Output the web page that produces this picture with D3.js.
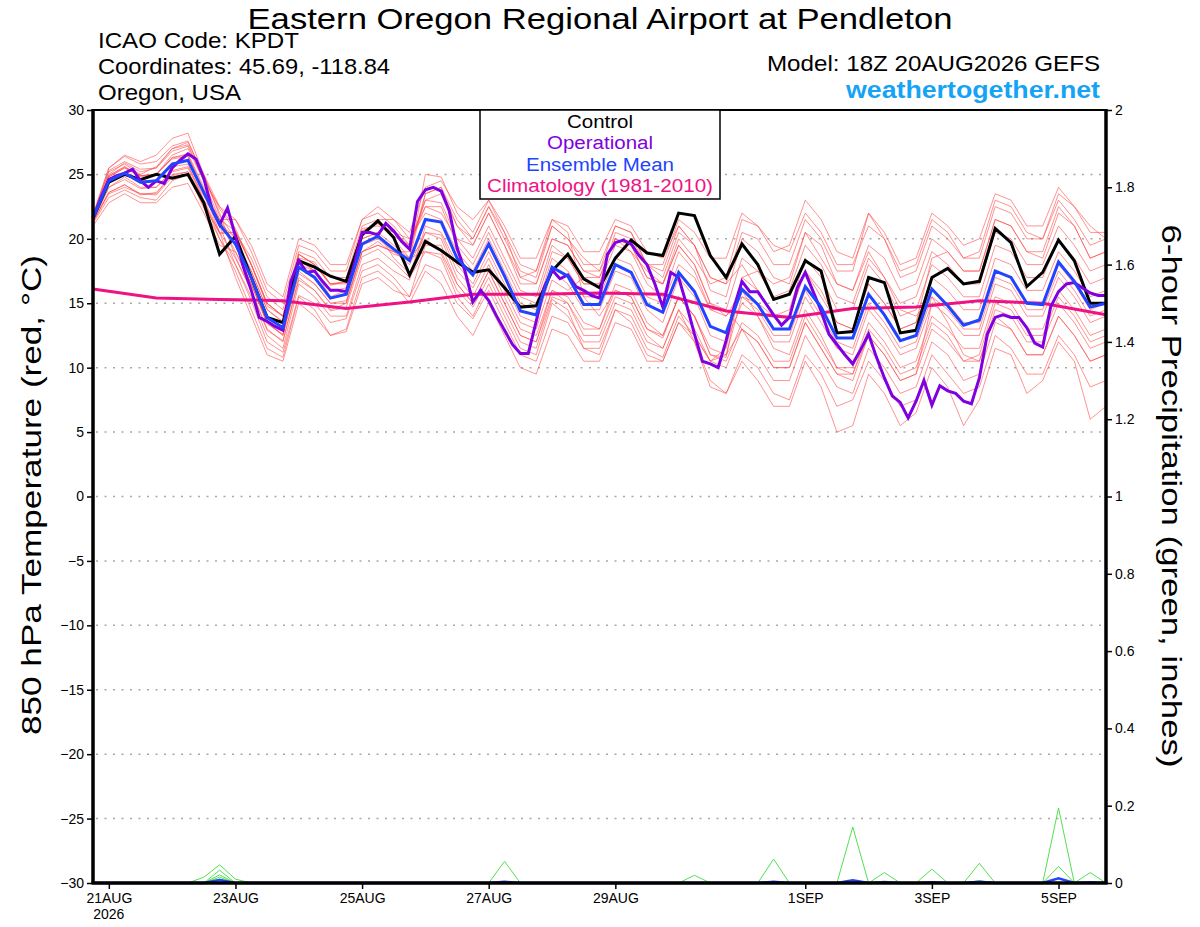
<!DOCTYPE html>
<html lang="en">
<head>
    <meta charset="UTF-8">
    <title>KPDT GEFS 850 hPa Temperature</title>
    <script src="https://d3js.org/d3.v7.min.js"></script>
    <style>
        body {
            margin: 0;
            background: #ffffff;
            font-family: "Liberation Sans", Arial, Helvetica, sans-serif;
        }
        svg text {
            font-family: "Liberation Sans", Arial, Helvetica, sans-serif;
        }
        .grid line {
            stroke: #a8a8a8;
            stroke-width: 1.5;
            stroke-dasharray: 2 6.5;
        }
        .tick text {
            font-size: 14px;
            fill: #000;
        }
        .tick line {
            stroke: #000;
            stroke-width: 1.5;
        }
    </style>
</head>
<body>
    <svg id="chart" width="1200" height="927"></svg>

    <script>
        // 6-hourly steps from 18Z 20AUG2026 to 18Z 05SEP2026 (65 points)
        const startTime = Date.UTC(2026, 7, 20, 18);
        const endTime = Date.UTC(2026, 8, 5, 18);

        const control = [21.6, 24.4, 25.0, 24.6, 25.0, 24.7, 25.0, 22.8, 18.8, 20.2, 17.0, 13.9, 13.5, 18.3, 17.8, 17.1,
            16.7, 20.3, 21.4, 20.1, 17.2, 19.8, 19.1, 18.2, 17.4, 17.6, 16.2, 14.7, 14.8, 17.5, 18.8, 16.9,
            16.2, 18.5, 19.9, 18.9, 18.7, 22.0, 21.8, 18.7, 17.0, 19.6, 18.0, 15.3, 15.7, 18.3, 17.5, 12.7,
            12.8, 17.0, 16.6, 12.7, 12.9, 17.0, 17.7, 16.5, 16.7, 20.8, 19.7, 16.3, 17.4, 19.9, 18.3, 15.0, 15.0];

        // operational run is 3-hourly (129 points)
        const operational = [21.6, 23.2, 24.6, 24.9, 25.1, 25.4, 24.5, 24.0, 24.5, 24.3, 25.5, 26.1, 26.6, 26.2, 24.7, 22.4,
            21.1, 22.4, 20.2, 17.8, 16.0, 13.9, 13.6, 13.2, 12.9, 16.7, 18.3, 17.4, 17.5, 16.7, 16.0, 16.0,
            15.9, 18.0, 20.5, 20.5, 20.3, 21.2, 20.6, 19.8, 19.2, 22.9, 23.8, 24.0, 23.7, 22.2, 19.3, 17.5,
            15.1, 16.0, 15.2, 14.0, 12.9, 11.8, 11.1, 11.1, 13.6, 16.2, 17.6, 16.9, 17.2, 16.3, 16.0, 15.6,
            15.4, 18.8, 19.7, 19.9, 19.6, 18.7, 18.0, 16.5, 14.7, 17.4, 17.0, 14.9, 12.6, 10.5, 10.3, 10.0,
            12.1, 14.7, 16.7, 15.9, 15.9, 15.0, 14.1, 13.3, 13.9, 16.2, 17.4, 15.9, 14.4, 12.6, 11.8, 11.0,
            10.3, 11.4, 12.6, 10.8, 9.2, 7.8, 7.3, 6.1, 7.4, 9.0, 7.1, 8.6, 8.2, 8.0, 7.4, 7.2,
            9.2, 12.6, 13.9, 14.1, 13.9, 13.9, 13.1, 11.9, 11.6, 14.7, 15.9, 16.5, 16.6, 16.2, 15.8, 15.6, 15.6];

        const ensembleMean = [21.6, 24.5, 25.1, 24.4, 24.5, 25.8, 26.1, 23.6, 21.1, 19.6, 17.0, 13.9, 13.1, 17.8, 17.0, 15.4,
            15.7, 19.6, 20.2, 19.2, 18.3, 21.5, 21.3, 18.5, 17.2, 19.6, 17.1, 14.4, 14.1, 17.8, 17.1, 14.9,
            14.9, 18.0, 17.4, 14.9, 14.3, 17.4, 15.9, 13.2, 12.7, 16.1, 14.9, 13.0, 13.0, 16.3, 14.7, 12.3,
            12.3, 15.7, 14.1, 12.1, 12.5, 16.1, 14.8, 13.3, 13.7, 17.5, 17.0, 15.0, 14.9, 18.2, 16.7, 14.7, 15.0];

        // climatology, one value per day (every 4th step)
        const climatology = [16.1, 15.4, 15.3, 15.2, 14.6, 15.1, 15.7, 15.7, 15.8, 15.7, 14.4, 13.9, 14.6, 14.7, 15.2, 15.0, 14.1];

        const member01 = [21.8, 25.2, 25.8, 25.0, 25.6, 27.0, 27.5, 25.0, 22.5, 20.8, 18.0, 15.0, 14.0, 18.5, 18.2, 16.5, 16.6, 20.8, 21.0, 20.5, 19.5, 23.0, 23.5, 21.0, 20.0, 22.5, 20.5, 17.0, 17.5, 21.0, 20.0, 18.5, 17.5, 21.0, 20.5, 18.0, 17.0, 20.5, 19.5, 16.0, 15.5, 20.0, 19.0, 17.0, 16.5, 20.5, 19.5, 16.5, 16.0, 19.5, 18.5, 16.0, 16.5, 20.0, 19.0, 17.5, 17.5, 21.5, 21.0, 19.0, 18.5, 22.0, 21.0, 18.5, 19.0];
        const member02 = [21.3, 23.6, 24.2, 23.5, 23.4, 24.8, 25.0, 22.4, 20.0, 18.0, 15.2, 12.0, 11.2, 15.6, 15.0, 13.5, 13.8, 17.5, 18.0, 17.0, 15.5, 18.0, 17.5, 15.0, 13.8, 16.0, 13.5, 11.0, 10.5, 14.0, 13.5, 11.5, 11.0, 14.5, 13.5, 11.0, 10.5, 13.5, 12.0, 8.5, 8.0, 11.0, 10.0, 8.0, 7.5, 11.0, 9.5, 7.0, 7.5, 10.5, 9.0, 7.0, 7.5, 11.0, 9.5, 8.0, 8.5, 12.5, 11.5, 9.5, 9.5, 12.5, 11.0, 8.5, 9.0];
        const member03 = [21.6, 24.8, 25.5, 24.9, 25.0, 26.5, 27.0, 24.5, 22.5, 21.5, 19.0, 16.0, 15.0, 19.5, 19.0, 17.5, 17.5, 21.5, 22.0, 21.0, 19.5, 22.5, 22.5, 19.5, 18.0, 20.5, 18.0, 15.5, 15.0, 19.0, 18.5, 16.5, 16.5, 20.5, 20.0, 18.0, 18.0, 21.5, 20.5, 18.5, 18.5, 22.0, 21.0, 19.0, 19.5, 23.0, 21.5, 19.0, 18.5, 22.0, 20.5, 18.0, 18.5, 22.0, 21.0, 19.5, 20.0, 23.5, 23.0, 21.0, 21.0, 24.0, 22.5, 20.5, 20.5];
        const member04 = [21.4, 24.0, 24.8, 24.0, 24.0, 25.2, 25.5, 23.0, 20.5, 18.5, 16.0, 13.0, 12.0, 17.0, 16.0, 14.5, 15.0, 19.0, 19.5, 19.0, 19.0, 23.5, 24.0, 21.0, 19.5, 22.0, 19.5, 17.0, 16.5, 20.0, 19.5, 17.5, 17.0, 20.0, 19.5, 17.0, 16.5, 19.5, 18.0, 15.0, 14.0, 16.0, 14.0, 11.5, 11.0, 14.5, 12.5, 10.0, 10.0, 13.5, 12.0, 10.0, 10.5, 14.0, 13.0, 11.5, 11.5, 15.5, 15.0, 13.0, 13.0, 16.0, 14.5, 12.5, 13.0];
        const member05 = [21.7, 25.0, 25.9, 25.2, 25.5, 26.8, 27.2, 24.5, 21.5, 19.5, 16.5, 13.5, 12.5, 18.0, 17.5, 15.5, 16.0, 19.5, 20.0, 19.0, 18.0, 20.5, 20.0, 17.0, 15.5, 18.0, 15.5, 13.0, 12.5, 16.0, 15.5, 13.5, 13.0, 16.5, 16.0, 13.5, 12.5, 15.5, 14.0, 11.5, 11.0, 13.0, 11.0, 9.0, 9.0, 12.5, 10.5, 8.5, 8.0, 11.5, 10.0, 8.0, 8.5, 12.0, 11.0, 9.0, 9.5, 13.5, 13.0, 11.0, 11.0, 14.0, 12.5, 10.5, 11.0];
        const member06 = [21.2, 23.2, 23.8, 23.2, 23.0, 24.5, 25.0, 22.5, 20.5, 20.5, 18.5, 15.5, 14.5, 19.0, 18.5, 17.0, 17.0, 21.0, 21.5, 21.5, 20.5, 24.0, 24.5, 22.5, 21.5, 23.0, 21.0, 18.5, 18.5, 21.5, 21.0, 19.0, 19.0, 21.5, 21.0, 19.0, 18.5, 21.0, 19.5, 17.0, 16.5, 18.0, 16.0, 14.0, 14.0, 17.5, 16.0, 13.5, 13.0, 16.5, 15.0, 13.0, 13.5, 17.0, 16.0, 14.5, 14.5, 18.5, 18.0, 16.0, 16.0, 19.0, 17.5, 15.5, 16.0];
        const member07 = [21.5, 24.5, 25.0, 24.3, 24.6, 25.6, 25.8, 23.0, 20.0, 17.5, 14.5, 11.5, 10.8, 15.5, 14.5, 12.5, 13.0, 17.0, 17.5, 16.5, 15.0, 17.5, 16.5, 14.0, 12.5, 15.0, 12.5, 10.0, 9.5, 13.0, 12.5, 10.5, 10.5, 13.5, 13.0, 10.5, 10.5, 13.5, 12.5, 10.5, 11.0, 15.5, 15.0, 14.0, 14.5, 18.5, 17.0, 14.5, 14.5, 18.0, 16.5, 14.0, 14.5, 18.0, 17.0, 15.5, 15.5, 19.5, 19.0, 17.0, 17.0, 20.0, 18.5, 16.5, 17.0];
        const member08 = [21.9, 25.5, 26.5, 26.0, 26.5, 27.8, 28.2, 25.0, 21.8, 20.0, 17.5, 14.5, 13.5, 18.5, 17.5, 16.0, 16.0, 20.0, 20.5, 19.5, 18.5, 20.0, 19.0, 16.5, 15.0, 17.5, 15.0, 12.5, 12.0, 15.5, 15.0, 12.5, 12.5, 15.5, 15.0, 12.5, 11.5, 14.5, 12.0, 9.0, 8.0, 10.5, 9.0, 7.0, 7.0, 10.5, 8.5, 5.0, 5.5, 9.5, 8.0, 5.5, 6.5, 10.0, 8.5, 5.5, 7.5, 11.5, 11.0, 8.0, 9.0, 12.0, 10.5, 6.0, 7.0];
        const member09 = [21.3, 23.5, 24.0, 23.5, 23.5, 25.0, 25.2, 23.0, 21.5, 21.5, 19.5, 16.5, 15.5, 20.0, 19.5, 18.0, 18.0, 21.5, 22.5, 21.5, 20.0, 22.0, 21.5, 19.0, 17.5, 20.0, 17.5, 15.0, 14.5, 18.5, 17.5, 15.5, 15.5, 18.5, 18.0, 15.5, 15.0, 18.0, 17.0, 14.5, 14.5, 18.5, 17.5, 15.5, 16.0, 19.5, 18.0, 15.5, 15.0, 18.5, 17.0, 15.0, 15.5, 19.0, 18.0, 16.5, 16.5, 20.5, 20.0, 18.0, 18.0, 21.0, 19.5, 17.5, 18.0];
        const member10 = [21.6, 24.9, 25.6, 24.9, 25.0, 26.3, 26.5, 23.8, 21.0, 18.0, 15.5, 12.5, 11.5, 16.5, 15.5, 14.0, 14.0, 18.0, 18.5, 17.5, 16.8, 21.0, 20.5, 18.0, 16.5, 19.0, 16.5, 14.0, 13.5, 17.5, 16.5, 14.5, 14.5, 17.5, 17.0, 14.5, 13.5, 17.0, 15.5, 12.5, 12.0, 15.0, 14.0, 12.0, 12.0, 15.5, 13.5, 11.5, 11.0, 14.5, 13.0, 11.0, 11.5, 15.0, 14.0, 12.5, 12.5, 16.5, 16.0, 14.0, 14.0, 17.0, 15.5, 13.5, 14.0];
        const member11 = [21.0, 22.8, 23.5, 22.8, 22.8, 24.0, 24.3, 22.0, 19.5, 19.0, 16.5, 13.5, 12.5, 17.5, 16.5, 15.0, 15.0, 19.0, 19.5, 19.0, 18.5, 23.5, 24.0, 21.5, 20.0, 22.5, 20.0, 17.5, 17.0, 21.0, 20.0, 18.0, 18.0, 21.0, 20.5, 18.0, 17.5, 21.0, 19.5, 17.0, 16.5, 20.5, 20.0, 18.0, 18.0, 21.5, 20.0, 17.5, 17.5, 22.0, 20.0, 17.0, 17.5, 21.0, 20.0, 18.5, 18.5, 22.5, 22.0, 20.0, 20.0, 23.0, 21.5, 19.5, 20.0];
        const member12 = [21.7, 25.3, 26.0, 25.4, 25.5, 27.0, 27.3, 24.8, 22.3, 20.6, 18.0, 14.8, 14.0, 18.8, 18.0, 16.4, 16.7, 20.6, 21.2, 20.0, 18.5, 19.0, 18.5, 15.5, 14.0, 16.5, 14.0, 11.5, 11.0, 15.0, 14.0, 12.0, 12.0, 15.0, 14.5, 12.0, 11.5, 14.5, 13.0, 10.5, 10.0, 13.0, 12.0, 10.0, 10.0, 13.5, 11.5, 9.5, 9.5, 12.5, 11.0, 9.0, 9.5, 13.0, 12.0, 10.5, 10.5, 14.5, 14.0, 12.0, 12.0, 15.0, 13.5, 11.5, 12.0];
        const member13 = [21.5, 24.9, 25.6, 24.8, 25.0, 26.3, 26.6, 24.0, 21.4, 19.0, 16.5, 13.4, 12.6, 17.3, 16.5, 15.0, 15.2, 19.0, 19.8, 18.8, 18.5, 25.0, 24.8, 22.0, 20.5, 23.0, 20.5, 18.0, 17.5, 21.5, 20.5, 15.5, 14.0, 16.0, 15.5, 13.0, 12.3, 15.5, 14.0, 11.0, 10.8, 17.0, 16.0, 14.0, 14.0, 17.5, 15.5, 13.5, 13.0, 16.5, 15.0, 13.0, 13.5, 18.5, 19.0, 17.5, 17.5, 21.5, 21.0, 19.0, 19.0, 22.5, 21.0, 18.5, 19.0];
        const member14 = [21.4, 24.0, 24.6, 23.9, 24.0, 25.3, 25.6, 23.3, 21.3, 20.0, 17.5, 14.5, 13.6, 18.3, 17.5, 15.9, 16.2, 20.0, 20.5, 18.5, 17.3, 20.5, 20.3, 17.5, 16.2, 18.5, 16.0, 13.5, 13.0, 16.8, 16.0, 17.0, 17.0, 20.0, 19.5, 17.0, 16.5, 19.5, 18.0, 15.0, 14.5, 13.0, 12.0, 10.0, 10.0, 13.5, 11.5, 9.5, 9.0, 12.5, 11.0, 9.0, 9.5, 15.0, 15.0, 13.5, 13.5, 17.5, 17.0, 15.0, 15.0, 18.0, 16.5, 14.5, 15.0];
        const member15 = [21.8, 25.5, 26.4, 25.8, 26.0, 27.2, 27.6, 24.8, 22.0, 18.6, 16.0, 12.9, 12.1, 16.8, 16.0, 14.4, 14.7, 18.6, 19.2, 18.2, 17.0, 19.0, 18.8, 16.0, 14.7, 17.0, 14.5, 12.0, 11.5, 15.3, 14.5, 11.5, 11.5, 14.5, 14.0, 11.5, 10.8, 14.0, 12.5, 10.5, 11.5, 17.0, 17.5, 16.5, 17.0, 20.5, 18.5, 16.5, 16.0, 19.0, 17.0, 14.5, 14.0, 15.5, 13.5, 11.0, 10.5, 14.0, 13.0, 11.0, 11.0, 14.0, 12.5, 10.5, 11.0];
        const member16 = [21.6, 24.4, 25.2, 24.6, 24.4, 25.9, 26.0, 23.5, 21.5, 20.6, 18.0, 15.0, 14.0, 18.8, 18.0, 16.5, 16.7, 20.6, 21.2, 20.5, 20.0, 22.5, 22.0, 20.0, 19.5, 22.0, 19.5, 16.5, 16.5, 20.0, 19.5, 17.5, 17.5, 20.0, 19.0, 17.5, 16.5, 20.0, 18.5, 16.5, 17.0, 21.5, 21.0, 19.5, 19.0, 22.0, 20.5, 18.0, 18.0, 21.0, 20.0, 17.5, 18.0, 21.5, 20.5, 18.5, 19.0, 23.0, 22.5, 20.5, 20.0, 23.5, 22.5, 21.0, 20.0];
        const member17 = [21.6, 24.8, 25.5, 24.9, 25.0, 26.2, 26.4, 23.6, 20.5, 17.0, 14.0, 11.0, 10.5, 15.0, 14.0, 12.5, 12.8, 16.5, 17.0, 16.0, 15.5, 19.5, 19.5, 16.5, 15.0, 17.5, 15.0, 12.5, 12.0, 16.0, 15.0, 13.0, 13.0, 16.0, 15.5, 13.0, 12.5, 15.5, 14.0, 11.0, 10.5, 13.5, 12.5, 10.5, 10.5, 14.0, 12.0, 10.0, 9.5, 13.0, 11.5, 9.5, 10.0, 13.5, 12.5, 10.5, 11.0, 15.0, 14.5, 12.5, 12.5, 15.5, 14.0, 12.0, 12.5];
        const member18 = [21.4, 23.6, 24.2, 23.4, 23.6, 24.9, 25.2, 22.8, 20.4, 20.5, 18.0, 15.0, 14.0, 18.8, 18.0, 16.5, 16.5, 20.5, 21.2, 20.2, 19.5, 23.0, 22.8, 20.0, 18.5, 21.0, 18.5, 16.0, 15.5, 19.5, 18.5, 16.5, 16.5, 19.5, 19.0, 16.5, 15.5, 19.0, 17.5, 14.5, 14.0, 15.5, 14.5, 12.5, 12.5, 16.0, 14.0, 12.0, 11.5, 15.0, 13.5, 11.5, 12.0, 15.5, 14.5, 13.0, 13.0, 17.0, 16.5, 14.5, 14.5, 17.5, 16.0, 14.0, 14.5];

        const members = [member01, member02, member03, member04, member05, member06, member07, member08, member09,
            member10, member11, member12, member13, member14, member15, member16, member17, member18];

        // 6-hour precipitation, only the non-zero steps: [step, inches]
        const precip01 = [[7, 0.015], [8, 0.047], [9, 0.01], [26, 0.056], [43, 0.062], [48, 0.145], [61, 0.194]];
        const precip02 = [[8, 0.033], [38, 0.02], [50, 0.027], [61, 0.043]];
        const precip03 = [[8, 0.021], [53, 0.036], [56, 0.051], [63, 0.027]];
        const precip04 = [[8, 0.015], [48, 0.006], [50, 0.005], [61, 0.012]];
        const precip05 = [[8, 0.01], [43, 0.004], [56, 0.006]];
        const precipMembers = [precip01, precip02, precip03, precip04, precip05];
        const precipMean = [[8, 0.008], [26, 0.003], [43, 0.003], [48, 0.007], [50, 0.002], [53, 0.002], [56, 0.003], [61, 0.012], [63, 0.002]];

        const tickDays = ["2026-08-21", "2026-08-23", "2026-08-25", "2026-08-27", "2026-08-29", "2026-09-01", "2026-09-03", "2026-09-05"];
        const tickLabels = ["21AUG", "23AUG", "25AUG", "27AUG", "29AUG", "1SEP", "3SEP", "5SEP"];
        const tempTicks = [-30, -25, -20, -15, -10, -5, 0, 5, 10, 15, 20, 25, 30];
        const precipTicks = [0, 0.2, 0.4, 0.6, 0.8, 1, 1.2, 1.4, 1.6, 1.8, 2];

        const legendItems = ["Control", "Operational", "Ensemble Mean", "Climatology (1981-2010)"];
        const legendWidths = [66, 106, 148, 226];
        const legendColors = ["#000000", "#8000e0", "#2244ff", "#ee1384"];

        const pL = 93, pR = 1106, pT = 110, pB = 883;
        const svg = d3.select("#chart");

        const x = d3.scaleUtc().domain([startTime, endTime]).range([pL, pR]);
        const y = d3.scaleLinear().domain([-30, 30]).range([pB, pT]);
        const yP = d3.scaleLinear().domain([0, 2]).range([pB, pT]);

        const hour = 3600 * 1000;
        const at6 = i => startTime + i * 6 * hour;
        const at3 = j => startTime + j * 3 * hour;

        // dotted grid
        svg.append("g")
            .attr("class", "grid")
            .selectAll("line")
            .data(tempTicks.filter(t => t > -30 && t < 30))
            .enter().append("line")
            .attr("x1", pL + 3).attr("x2", pR - 2)
            .attr("y1", d => y(d)).attr("y2", d => y(d));

        const plot = svg.append("g");

        const line6 = d3.line().x((d, i) => x(at6(i))).y(d => y(d));
        const line3 = d3.line().x((d, i) => x(at3(i))).y(d => y(d));

        // ensemble members
        plot.selectAll(".member")
            .data(members)
            .enter().append("path")
            .attr("class", "member")
            .attr("d", line6)
            .attr("fill", "none")
            .attr("stroke", "#ff4a4a")
            .attr("stroke-opacity", 0.75)
            .attr("stroke-width", 0.8);

        // precipitation
        const expand = spikes => {
            const vals = new Array(65).fill(0);
            spikes.forEach(([s, v]) => { vals[s] = v; });
            return vals;
        };
        const lineP = d3.line().x((d, i) => x(at6(i))).y(d => yP(d));

        plot.selectAll(".precip")
            .data(precipMembers.map(expand))
            .enter().append("path")
            .attr("class", "precip")
            .attr("d", lineP)
            .attr("fill", "none")
            .attr("stroke", "#3ddc3d")
            .attr("stroke-width", 0.9);

        plot.append("path")
            .attr("d", lineP(expand(precipMean)))
            .attr("fill", "none")
            .attr("stroke", "#2244ff")
            .attr("stroke-width", 2.5);

        // climatology (daily)
        plot.append("path")
            .attr("d", d3.line().x((d, k) => x(at6(k * 4))).y(d => y(d))(climatology))
            .attr("fill", "none")
            .attr("stroke", legendColors[3])
            .attr("stroke-width", 3);

        plot.append("path")
            .attr("d", line6(control))
            .attr("fill", "none")
            .attr("stroke", legendColors[0])
            .attr("stroke-width", 3);

        plot.append("path")
            .attr("d", line3(operational))
            .attr("fill", "none")
            .attr("stroke", legendColors[1])
            .attr("stroke-width", 3);

        plot.append("path")
            .attr("d", line6(ensembleMean))
            .attr("fill", "none")
            .attr("stroke", legendColors[2])
            .attr("stroke-width", 3);

        // axes
        const leftAxis = svg.append("g")
            .attr("transform", `translate(${pL},0)`)
            .call(d3.axisLeft(y).tickValues(tempTicks).tickSize(6).tickPadding(3));
        leftAxis.select(".domain").remove();

        const rightAxis = svg.append("g")
            .attr("transform", `translate(${pR},0)`)
            .call(d3.axisRight(yP).tickValues(precipTicks).tickSize(6).tickPadding(3).tickFormat(d3.format("~g")));
        rightAxis.select(".domain").remove();

        const bottomAxis = svg.append("g")
            .attr("transform", `translate(0,${pB})`)
            .call(d3.axisBottom(x)
                .tickValues(tickDays.map(d => new Date(d + "T00:00:00Z")))
                .tickSize(6).tickPadding(4)
                .tickFormat((d, i) => tickLabels[i]));
        bottomAxis.select(".domain").remove();

        svg.append("text")
            .attr("x", x(new Date(tickDays[0] + "T00:00:00Z")))
            .attr("y", 919)
            .attr("text-anchor", "middle")
            .attr("font-size", 14)
            .text("2026");

        // frame
        svg.append("line").attr("x1", pL).attr("x2", pR).attr("y1", pT).attr("y2", pT)
            .attr("stroke", "#000").attr("stroke-width", 2);
        svg.append("line").attr("x1", pL - 1.5).attr("x2", pR + 1.5).attr("y1", pB).attr("y2", pB)
            .attr("stroke", "#000").attr("stroke-width", 3.5);
        svg.append("line").attr("x1", pL).attr("x2", pL).attr("y1", pT - 1).attr("y2", pB)
            .attr("stroke", "#000").attr("stroke-width", 3.5);
        svg.append("line").attr("x1", pR).attr("x2", pR).attr("y1", pT - 1).attr("y2", pB)
            .attr("stroke", "#000").attr("stroke-width", 3.5);

        // legend
        const legend = svg.append("g");
        legend.append("rect")
            .attr("x", 480).attr("y", pT).attr("width", 240).attr("height", 89)
            .attr("fill", "#fff").attr("stroke", "#000").attr("stroke-width", 1.5);
        legend.selectAll("text")
            .data(legendItems)
            .enter().append("text")
            .attr("x", 600)
            .attr("y", (d, i) => 127.5 + i * 21.5)
            .attr("text-anchor", "middle")
            .attr("font-size", 18)
            .attr("textLength", (d, i) => legendWidths[i])
            .attr("lengthAdjust", "spacingAndGlyphs")
            .attr("fill", (d, i) => legendColors[i])
            .text(d => d);

        // titles
        svg.append("text")
            .attr("x", 600).attr("y", 29)
            .attr("text-anchor", "middle")
            .attr("font-size", 30)
            .attr("textLength", 705)
            .attr("lengthAdjust", "spacingAndGlyphs")
            .text("Eastern Oregon Regional Airport at Pendleton");

        const info = ["ICAO Code: KPDT", "Coordinates: 45.69, -118.84", "Oregon, USA"];
        const infoWidths = [201, 292, 143];
        svg.selectAll(".info")
            .data(info)
            .enter().append("text")
            .attr("class", "info")
            .attr("x", 98)
            .attr("y", (d, i) => 48 + i * 26)
            .attr("font-size", 21.5)
            .attr("textLength", (d, i) => infoWidths[i])
            .attr("lengthAdjust", "spacingAndGlyphs")
            .text(d => d);

        svg.append("text")
            .attr("x", 1100).attr("y", 71)
            .attr("text-anchor", "end")
            .attr("font-size", 21.5)
            .attr("textLength", 333)
            .attr("lengthAdjust", "spacingAndGlyphs")
            .text("Model: 18Z 20AUG2026 GEFS");

        svg.append("text")
            .attr("x", 1100).attr("y", 98)
            .attr("text-anchor", "end")
            .attr("font-size", 23)
            .attr("font-weight", "bold")
            .attr("textLength", 254)
            .attr("lengthAdjust", "spacingAndGlyphs")
            .attr("fill", "#16a3f5")
            .text("weathertogether.net");

        svg.append("text")
            .attr("transform", `translate(41,495) rotate(-90)`)
            .attr("text-anchor", "middle")
            .attr("font-size", 28)
            .attr("textLength", 480)
            .attr("lengthAdjust", "spacingAndGlyphs")
            .text("850 hPa Temperature (red, °C)");

        svg.append("text")
            .attr("transform", `translate(1162,496) rotate(90)`)
            .attr("text-anchor", "middle")
            .attr("font-size", 28)
            .attr("textLength", 543)
            .attr("lengthAdjust", "spacingAndGlyphs")
            .text("6-hour Precipitation (green, inches)");
    </script>
</body>
</html>
